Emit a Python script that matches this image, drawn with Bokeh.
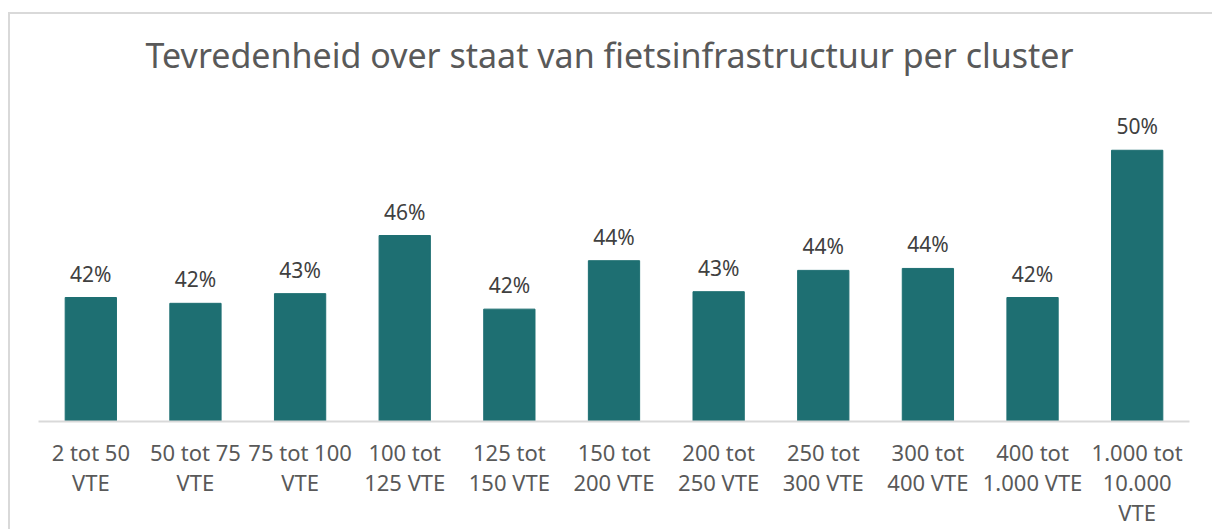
from bokeh.plotting import figure
from bokeh.models import FactorRange, Range1d, ColumnDataSource, Title
from bokeh.core.properties import value
from bokeh.embed import file_html
from bokeh.resources import INLINE

# ---- data ----
clusters = [
    "2 tot 50\nVTE", "50 tot 75\nVTE", "75 tot 100\nVTE", "100 tot\n125 VTE",
    "125 tot\n150 VTE", "150 tot\n200 VTE", "200 tot\n250 VTE", "250 tot\n300 VTE",
    "300 tot\n400 VTE", "400 tot\n1.000 VTE", "1.000 tot\n10.000\nVTE",
]
tevredenheid = [0.424, 0.421, 0.426, 0.456, 0.418, 0.443, 0.427, 0.438, 0.439, 0.424, 0.500]
pct_labels = [f"{round(v * 100)}%" for v in tevredenheid]
title_text = "Tevredenheid over staat van fietsinfrastructuur  per cluster"
AXIS_MIN = 0.36
AXIS_MAX = 0.52

BAR_COLOR = "#1E6F72"
FONT = "Noto Sans"

src = ColumnDataSource(dict(x=clusters, top=tevredenheid, lab=pct_labels))

p = figure(
    x_range=FactorRange(*clusters, range_padding=0),
    y_range=Range1d(AXIS_MIN, AXIS_MAX),
    width=1204, height=517,
    output_backend="svg", toolbar_location=None,
    min_border_left=28, min_border_right=25,
    min_border_top=97, min_border_bottom=110,
)
p.styles = {"border-top": "2px solid #d9d9d9", "border-left": "2px solid #d9d9d9",
            "margin-top": "12px", "margin-left": "8px"}

# thin spacer panel between the title and the plot frame
p.add_layout(Title(text=" ", text_font_size="2px", standoff=16), "above")
# main title
p.add_layout(Title(text=title_text, align="center", text_font=FONT,
                   text_font_size="34px", text_font_style="normal",
                   text_color="#595959", standoff=28), "above")

p.vbar(x="x", top="top", bottom=AXIS_MIN, width=0.49, source=src,
       fill_color=BAR_COLOR, line_color=BAR_COLOR)

p.text(x="x", y="top", text="lab", source=src, text_align="center",
       text_baseline="middle", y_offset=-24, text_font=value(FONT),
       text_font_size="21px", text_color="#404040")

p.yaxis.visible = False
p.grid.visible = False
p.outline_line_color = None

xa = p.xaxis[0]
xa.axis_line_color = "#d9d9d9"
xa.axis_line_width = 2
xa.major_tick_line_color = None
xa.minor_tick_line_color = None
xa.major_label_standoff = 9
xa.major_label_text_font = FONT
xa.major_label_text_font_size = "22px"
xa.major_label_text_color = "#595959"
xa.major_label_text_line_height = 1.0

open("out.html", "w").write(file_html(p, INLINE))
